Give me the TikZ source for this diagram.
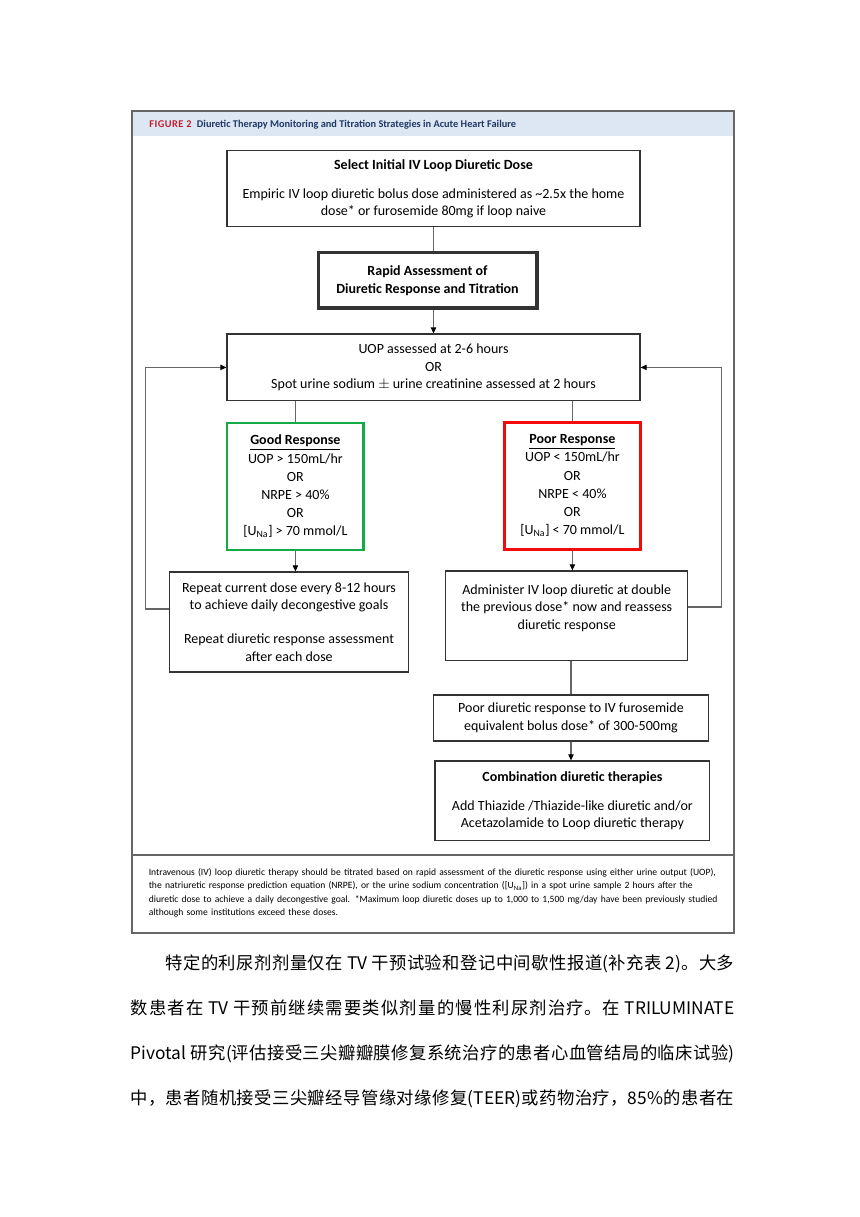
\documentclass[tikz,border=0pt]{standalone}
\usepackage{fontspec}
\setmainfont{Carlito}
\newfontfamily\cjkfont{Noto Sans CJK SC}
\usetikzlibrary{arrows.meta}

\definecolor{titlebar}{RGB}{221,231,243}
\definecolor{titleblue}{RGB}{31,56,100}
\definecolor{figred}{RGB}{190,30,45}
\definecolor{goodgreen}{RGB}{20,170,70}
\definecolor{poorred}{RGB}{245,10,10}

\begin{document}
\begin{tikzpicture}[x=0.75pt,y=-0.75pt,
  flowbox/.style={draw=black!80,line width=0.9pt,align=center,inner sep=0pt,
    font=\fontsize{10.5pt}{13.2pt}\selectfont},
  criteria/.style={flowbox,line width=2.2pt,font=\fontsize{10.5pt}{13.6pt}\selectfont},
  link/.style={draw=black!60,line width=0.8pt},
  arr/.style={link,-{Triangle[length=4.5pt,width=4pt,color=black]}}]
\useasboundingbox (0,0) rectangle (860,1217);

% Figure frame with title bar and footnote.
\fill[titlebar] (132,111) rectangle (734,136);
\draw[black!60,line width=1.1pt] (132,111) rectangle (734,933);
\draw[black!60,line width=0.9pt] (132,855) -- (734,855);
\node[anchor=west,inner sep=0pt,font=\fontsize{7.75pt}{8pt}\selectfont\bfseries] (title) at (149,124.5)
  {\textcolor{figred}{\addfontfeatures{LetterSpace=5}FIGURE 2}\hspace{4pt}\textcolor{titleblue}{Diuretic Therapy Monitoring and Titration Strategies in Acute Heart Failure}};

% Boxes of the flow chart.
\node[flowbox,minimum width=309.75pt,minimum height=57pt] (select) at (433.5,188.7)
  {\textbf{Select Initial IV Loop Diuretic Dose}\\[8.5pt]
   Empiric IV loop diuretic bolus dose administered as \textasciitilde2.5x the home\\
   dose* or furosemide 80mg if loop naive};
\node[flowbox,line width=2.5pt,minimum width=164pt,minimum height=41.5pt] (rapid) at (427.5,280.4)
  {\textbf{Rapid Assessment of}\\ \textbf{Diuretic Response and Titration}};
\node[flowbox,minimum width=309.75pt,minimum height=50pt] (uop) at (433.5,367.4)
  {UOP assessed at 2-6 hours\\ OR\\ Spot urine sodium $\pm$ urine creatinine assessed at 2 hours};

\node[criteria,draw=goodgreen,minimum width=102.6pt,minimum height=95.25pt] (good) at (295.4,486.5)
  {\underline{\textbf{Good Response}}\\ UOP > 150mL/hr\\ OR\\ NRPE > 40\%\\ OR\\ {}[U\textsubscript{Na}] > 70 mmol/L};
\node[criteria,draw=poorred,minimum width=102.5pt,minimum height=95.5pt] (poor) at (572.4,485.7)
  {\underline{\textbf{Poor Response}}\\ UOP < 150mL/hr\\ OR\\ NRPE < 40\%\\ OR\\ {}[U\textsubscript{Na}] < 70 mmol/L};

\node[flowbox,minimum width=179pt,minimum height=75pt] (repeat) at (289,622)
  {Repeat current dose every 8-12 hours\\ to achieve daily decongestive goals\\[12.3pt]
   Repeat diuretic response assessment\\ after each dose};
\node[flowbox,minimum width=181.6pt,minimum height=67.3pt] (admin) at (566.7,615.8)
  {Administer IV loop diuretic at double\\ the previous dose* now and reassess\\ diuretic response\\ \mbox{}};
\node[flowbox,minimum width=206pt,minimum height=34.5pt] (poordiur) at (571,718)
  {Poor diuretic response to IV furosemide\\ equivalent bolus dose* of 300-500mg};
\node[flowbox,minimum width=206pt,minimum height=59.8pt] (combo) at (572.4,800.9)
  {\textbf{Combination diuretic therapies}\\[8.5pt]
   Add Thiazide /Thiazide-like diuretic and/or\\ Acetazolamide to Loop diuretic therapy};

% Connectors.
\draw[link] (select.south) -- (select.south |- rapid.north);
\draw[arr] (select.south |- rapid.south) -- (select.south |- uop.north);
\draw[link] (good.north |- uop.south) -- (good.north);
\draw[link] (poor.north |- uop.south) -- (poor.north);
\draw[arr] (good.south) -- (good.south |- repeat.north);
\draw[arr] (poor.south) -- (poor.south |- admin.north);
\draw[link] (poordiur.north |- admin.south) -- (poordiur.north);
\draw[arr] (poordiur.south) -- (poordiur.south |- combo.north);
\draw[arr] ([yshift=9.75pt]repeat.west) -- ++(-24,0) |- (uop.west);
\draw[arr] ([yshift=6.6pt]admin.east) -- ++(33.2,0) |- (uop.east);

\node[anchor=base west,inner sep=0pt,text width=445pt,align=left,font=\fontsize{7.2pt}{10.1pt}\selectfont] (note) at (148.5,875.5)
  {Intravenous (IV) loop diuretic therapy should be titrated based on rapid assessment of the diuretic response using either urine output (UOP),\\
   the natriuretic response prediction equation (NRPE), or the urine sodium concentration ([U\textsubscript{Na}]) in a spot urine sample 2 hours after the\\
   diuretic dose to achieve a daily decongestive goal. *Maximum loop diuretic doses up to 1,000 to 1,500 mg/day have been previously studied\\
   although some institutions exceed these doses.};

% Running text below the figure.
\node[anchor=base west,inner sep=0pt,text width=452.6pt,align=justify,
  font=\cjkfont\fontsize{13pt}{33.75pt}\selectfont] (para) at (130.5,969.5)
  {\XeTeXlinebreaklocale "zh"\XeTeXlinebreakskip=0pt plus 3pt\hspace*{26pt}特定的利尿剂剂量仅在 TV 干预试验和登记中间歇性报道(补充表 2)。大多\linebreak
   数患者在 TV 干预前继续需要类似剂量的慢性利尿剂治疗。在 TRILUMINATE\linebreak
   Pivotal 研究(评估接受三尖瓣瓣膜修复系统治疗的患者心血管结局的临床试验)\linebreak
   中，患者随机接受三尖瓣经导管缘对缘修复(TEER)或药物治疗，85\%的患者在\parfillskip=0pt\par};

\end{tikzpicture}
\end{document}
